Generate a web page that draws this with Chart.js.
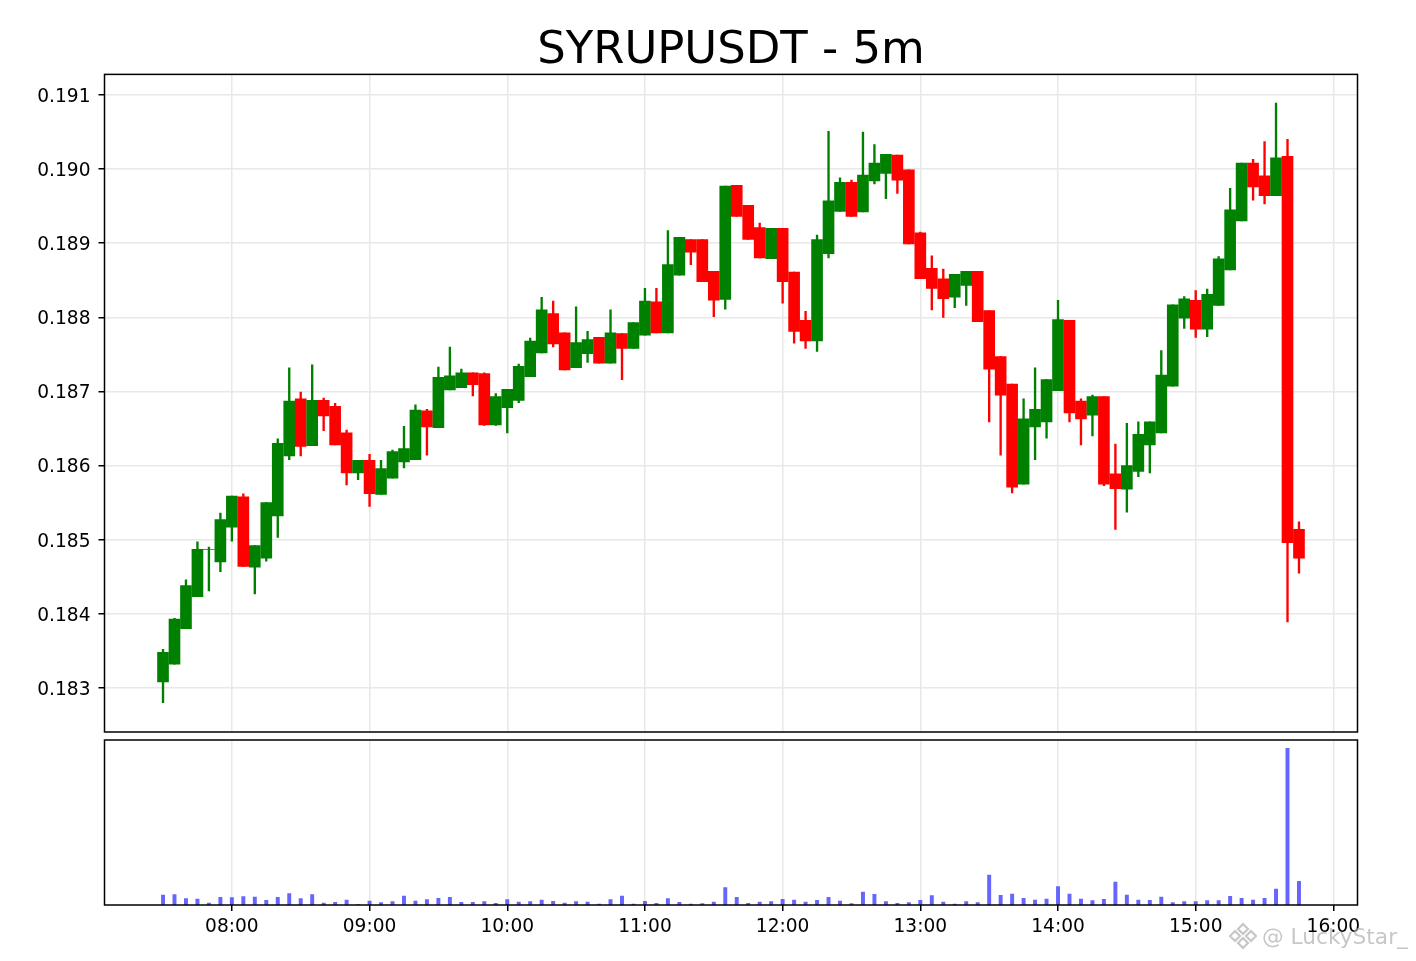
<!DOCTYPE html>
<html>
<head>
<meta charset="utf-8">
<title>SYRUPUSDT - 5m</title>
<script src="https://cdn.jsdelivr.net/npm/chart.js@4"></script>
<style>
  html, body { margin: 0; padding: 0; background: #fff; }
  #wrap { position: relative; width: 1416px; height: 961px; overflow: hidden; }
  canvas { position: absolute; left: 0; }
  #priceChart { top: 0; }
  #volumeChart { top: 736px; }
  #mark { position: absolute; left: 1262px; top: 924px; font: 21.7px "DejaVu Sans"; color: rgba(175,175,175,.7); white-space: nowrap; }
  #logo { position: absolute; left: 1229px; top: 922px; }
</style>
</head>
<body>
<div id="wrap">
  <canvas id="priceChart" width="1416" height="736"></canvas>
  <canvas id="volumeChart" width="1416" height="225"></canvas>
  <svg id="logo" width="28" height="28" viewBox="0 0 28 28" fill="none" stroke="rgba(175,175,175,.7)" stroke-width="2.2">
    <path d="M14 2l5 5-5 5-5-5zM6 9l5 5-5 5-5-5zM22 9l5 5-5 5-5-5zM14 16l5 5-5 5-5-5z"/>
  </svg>
  <div id="mark">@ LuckyStar_</div>
</div>
<script>
const times = [
  "07:30","07:35","07:40","07:45","07:50","07:55","08:00","08:05","08:10","08:15",
  "08:20","08:25","08:30","08:35","08:40","08:45","08:50","08:55","09:00","09:05",
  "09:10","09:15","09:20","09:25","09:30","09:35","09:40","09:45","09:50","09:55",
  "10:00","10:05","10:10","10:15","10:20","10:25","10:30","10:35","10:40","10:45",
  "10:50","10:55","11:00","11:05","11:10","11:15","11:20","11:25","11:30","11:35",
  "11:40","11:45","11:50","11:55","12:00","12:05","12:10","12:15","12:20","12:25",
  "12:30","12:35","12:40","12:45","12:50","12:55","13:00","13:05","13:10","13:15",
  "13:20","13:25","13:30","13:35","13:40","13:45","13:50","13:55","14:00","14:05",
  "14:10","14:15","14:20","14:25","14:30","14:35","14:40","14:45","14:50","14:55",
  "15:00","15:05","15:10","15:15","15:20","15:25","15:30","15:35","15:40","15:45"
];
const opens = [
  .18308,.18332,.18380,.18423,.18487,.18470,.18517,.18558,.18463,.18475,
  .18532,.18613,.18690,.18627,.18688,.18680,.18644,.18590,.18607,.18561,
  .18583,.18605,.18608,.18674,.18651,.18702,.18705,.18725,.18724,.18655,
  .18678,.18688,.18720,.18752,.18805,.18779,.18732,.18751,.18773,.18738,
  .18778,.18758,.18776,.18821,.18779,.18857,.18905,.18905,.18862,.18824,
  .18978,.18951,.18921,.18879,.18920,.18861,.18796,.18768,.18886,.18943,
  .18982,.18942,.18984,.18994,.19019,.18999,.18914,.18866,.18852,.18827,
  .18843,.18862,.18809,.18747,.18710,.18575,.18652,.18659,.18701,.18796,
  .18687,.18668,.18693,.18589,.18568,.18592,.18628,.18644,.18707,.18799,
  .18823,.18784,.18816,.18864,.18930,.19008,.18991,.18964,.19017,.18514
];
const closes = [
  .18348,.18393,.18438,.18487,.18487,.18527,.18559,.18464,.18492,.18550,
  .18630,.18687,.18626,.18688,.18667,.18628,.18590,.18607,.18562,.18596,
  .18619,.18623,.18675,.18652,.18719,.18721,.18725,.18709,.18655,.18693,
  .18703,.18734,.18768,.18810,.18764,.18729,.18766,.18770,.18738,.18779,
  .18758,.18793,.18822,.18779,.18871,.18908,.18888,.18848,.18823,.18977,
  .18936,.18905,.18880,.18920,.18848,.18781,.18768,.18905,.18957,.18982,
  .18936,.18992,.19008,.19020,.18985,.18899,.18852,.18839,.18825,.18858,
  .18862,.18794,.18730,.18695,.18571,.18663,.18676,.18716,.18797,.18671,
  .18663,.18693,.18575,.18569,.18600,.18642,.18659,.18722,.18817,.18825,
  .18784,.18831,.18879,.18945,.19008,.18976,.18964,.19015,.18496,.18475
];
const highs = [
  .18352,.18394,.18446,.18497,.18490,.18536,.18559,.18562,.18492,.18550,
  .18636,.18732,.18699,.18736,.18691,.18684,.18648,.18607,.18615,.18607,
  .18621,.18653,.18682,.18676,.18733,.18760,.18730,.18725,.18725,.18697,
  .18703,.18737,.18772,.18827,.18822,.18779,.18814,.18781,.18773,.18810,
  .18778,.18793,.18839,.18839,.18917,.18908,.18905,.18905,.18862,.18977,
  .18978,.18951,.18927,.18920,.18920,.18861,.18808,.18911,.19051,.18988,
  .18985,.19050,.19033,.19020,.19019,.18999,.18915,.18883,.18865,.18858,
  .18862,.18862,.18809,.18747,.18710,.18690,.18732,.18716,.18823,.18796,
  .18690,.18695,.18693,.18629,.18657,.18659,.18659,.18755,.18817,.18828,
  .18836,.18838,.18882,.18974,.19008,.19013,.19037,.19089,.19040,.18524
];
const lows = [
  .18280,.18332,.18380,.18423,.18431,.18457,.18498,.18464,.18427,.18471,
  .18503,.18608,.18613,.18627,.18647,.18628,.18574,.18581,.18545,.18561,
  .18583,.18597,.18608,.18614,.18651,.18702,.18705,.18694,.18654,.18654,
  .18644,.18685,.18720,.18752,.18760,.18729,.18732,.18739,.18738,.18738,
  .18716,.18758,.18776,.18779,.18779,.18857,.18871,.18848,.18801,.18811,
  .18936,.18905,.18880,.18879,.18819,.18765,.18758,.18754,.18880,.18943,
  .18936,.18942,.18980,.18960,.18967,.18899,.18852,.18810,.18800,.18813,
  .18816,.18794,.18659,.18614,.18563,.18575,.18608,.18637,.18701,.18659,
  .18628,.18640,.18573,.18514,.18537,.18585,.18590,.18644,.18707,.18785,
  .18773,.18774,.18816,.18864,.18930,.18958,.18953,.18964,.18389,.18455
];
const volumes = [
  10000,10300,6300,6000,2000,7700,7300,8300,8000,4700,
  7700,11300,6300,10300,2000,2700,5000,400,4000,2300,
  3300,9000,4000,5300,6700,7700,2700,2700,3300,1700,
  5300,3000,3300,5000,3700,2000,3300,3000,1000,5300,
  9000,1000,3700,1700,6300,2700,1000,1300,3000,17300,
  7700,1700,3000,3300,5700,5000,3000,4700,7700,4000,
  1300,13000,10700,3300,1700,2300,4700,9300,3000,1000,
  3300,2300,30000,9700,11000,6700,5000,6000,18300,11000,
  6000,4300,5700,23000,10000,5000,4700,8000,2300,3300,
  3300,4300,4300,8700,6700,5000,6700,16000,156700,23700
];
const hourLabels = ["08:00","09:00","10:00","11:00","12:00","13:00","14:00","15:00","16:00"];
const priceTicks = [0.183,0.184,0.185,0.186,0.187,0.188,0.189,0.19,0.191];

const FONT = "DejaVu Sans";
const UP = "#008000", DOWN = "#ff0000", GRID = "#e8e8e8";

function toMinutes(t) {
  const [h, m] = t.split(":");
  return h * 60 + +m;
}
const xs = times.map(toMinutes);
const hourTicks = hourLabels.map(toMinutes);
const candleColors = opens.map((o, i) => closes[i] >= o ? UP : DOWN);

// box round the plot, chart.js only has left/bottom borders per scale
const framePlugin = {
  id: "frame",
  afterDraw(chart) {
    const { ctx, chartArea: a } = chart;
    ctx.save();
    ctx.strokeStyle = "#000";
    ctx.lineWidth = 1.5;
    ctx.strokeRect(a.left, a.top, a.right - a.left, a.bottom - a.top);
    ctx.restore();
  }
};

// price labels sit a touch high in canvas "middle" baseline, push them down
const labelShiftPlugin = {
  id: "labelShift",
  beforeDraw(chart) {
    chart.scales.y.getLabelItems().forEach(item => {
      const [x, y] = item.options.translation;
      item.options.translation = [x, y + 2];
    });
  }
};

const xRange = { type: "linear", min: 424.5, max: 970.5, offset: false };
function hourAxis(showLabels) {
  return {
    ...xRange,
    border: { display: false },
    grid: {
      offset: false, color: GRID, lineWidth: 1.5,
      drawTicks: showLabels, tickColor: "#000", tickWidth: 1.5, tickLength: 6
    },
    afterBuildTicks(scale) {
      scale.ticks = hourTicks.map(v => ({ value: v }));
    },
    ticks: {
      display: showLabels, autoSkip: false, maxRotation: 0, padding: 5,
      color: "#000", font: { family: FONT, size: 18.6 },
      callback: v => hourLabels[hourTicks.indexOf(v)]
    }
  };
}

new Chart(document.getElementById("priceChart"), {
  type: "bar",
  data: {
    datasets: [
      {
        label: "body",
        data: xs.map((x, i) => ({ x, y: [opens[i], closes[i]] })),
        backgroundColor: candleColors,
        borderWidth: 0,
        barThickness: 11,
        grouped: false,
        order: 1
      },
      {
        label: "wick",
        data: xs.map((x, i) => ({ x, y: [lows[i], highs[i]] })),
        backgroundColor: candleColors,
        borderWidth: 0,
        barThickness: 1.7,
        grouped: false,
        order: 2
      }
    ]
  },
  options: {
    responsive: false,
    animation: false,
    layout: { padding: { left: 0, right: 58.5, top: 0, bottom: 4 } },
    plugins: {
      legend: { display: false },
      tooltip: { enabled: false },
      title: {
        display: true,
        text: "SYRUPUSDT - 5m",
        color: "#000",
        fullSize: false,
        font: { family: FONT, size: 44.9, weight: "normal" },
        padding: { top: 24, bottom: -3.5 }
      }
    },
    scales: {
      x: { ...hourAxis(false), afterFit(scale) { scale.height = 0; } },
      y: {
        min: 0.182406,
        max: 0.191277,
        border: { display: false },
        grid: { color: GRID, lineWidth: 1.5, tickColor: "#000", tickWidth: 1.5, tickLength: 6 },
        afterBuildTicks(scale) {
          scale.ticks = priceTicks.map(v => ({ value: v }));
        },
        afterFit(scale) {
          scale.width = 104.5;
          // no room kept for the half height of the end labels
          scale.paddingTop = 0;
          scale.paddingBottom = 0;
        },
        ticks: {
          color: "#000", padding: 8,
          font: { family: FONT, size: 18.6 },
          callback: v => v.toFixed(3)
        }
      }
    }
  },
  plugins: [framePlugin, labelShiftPlugin]
});

new Chart(document.getElementById("volumeChart"), {
  type: "bar",
  data: {
    datasets: [{
      label: "volume",
      data: xs.map((x, i) => ({ x, y: volumes[i] })),
      backgroundColor: "#6666ff",
      borderWidth: 0,
      barThickness: 3.3
    }]
  },
  options: {
    responsive: false,
    animation: false,
    layout: { padding: { left: 104.5, right: 58.5, top: 4, bottom: 0 } },
    plugins: { legend: { display: false }, tooltip: { enabled: false } },
    scales: {
      x: { ...hourAxis(true), afterFit(scale) { scale.height = 56; } },
      y: { display: false, min: 0, max: 165000 }
    }
  },
  plugins: [framePlugin]
});
</script>
</body>
</html>
